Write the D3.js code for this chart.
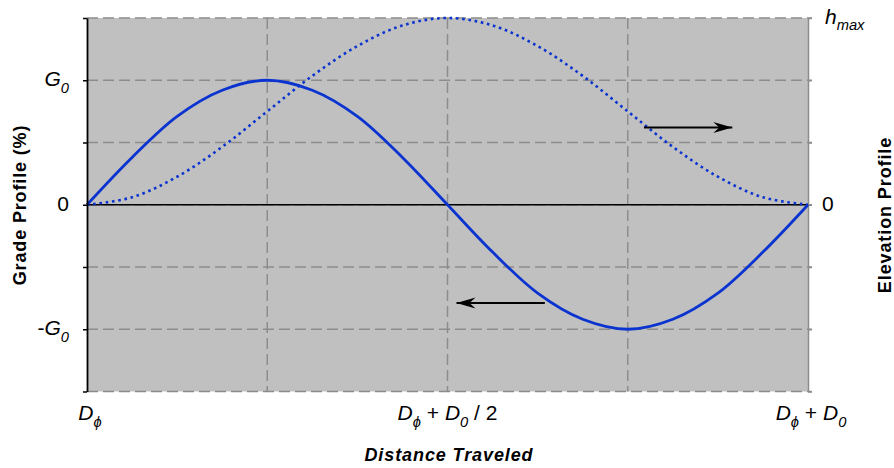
<!DOCTYPE html>
<html><head><meta charset="utf-8">
<script src="https://cdn.jsdelivr.net/npm/d3@7"></script>
<style>
body{margin:0;background:#fff}
text{font-family:"Liberation Sans",Arial,Helvetica,sans-serif;white-space:pre}
</style>
</head><body>
<svg id="c" width="894" height="468"></svg>
<script>
// ---- data (distance in quarter periods, grade in units of G0, elevation in units of h_max)
const distance  = [0,0.25,0.5,0.75,1,1.25,1.5,1.75,2,2.25,2.5,2.75,3,3.25,3.5,3.75,4];
const grade     = [0,0.38,0.71,0.92,1,0.92,0.71,0.38,0,-0.38,-0.71,-0.92,-1,-0.92,-0.71,-0.38,0];
const elevation = [0,0.04,0.15,0.31,0.5,0.69,0.85,0.96,1,0.96,0.85,0.69,0.5,0.31,0.15,0.04,0];
const gridValues = [-1.5,-1,-0.5,0,0.5,1,1.5];
const xGridValues = [1,2,3];
const gradeTickValues = [-1,0,1];
const gradeTickLabels = ["-G_0","0","G_0"];
const elevTickValues = [0,1];
const elevTickLabels = ["0","h_max"];
const xTickValues = [0,2,4];
const xTickLabels = ["D_ϕ","D_ϕ + D_0 / 2","D_ϕ + D_0"];
const arrowFrom = [[3.09,0.62],[2.54,-0.79]];
const arrowTo   = [[3.58,0.62],[2.05,-0.79]];

const svg = d3.select("#c");
const L=87, R=808, T=18, B=391.5;
const x = d3.scaleLinear().domain([0,4]).range([L,R]);
const y = d3.scaleLinear().domain([-1.5,1.5]).range([B,T]);
const yE = d3.scaleLinear().domain([-1,1]).range([B,T]);

const blue="#0a33d0", gridC="#8c8c8c";

function rich(sel, str, fs){
  sel.text(null);
  const segs=[]; let i=0;
  while(i<str.length){
    if(str[i]==='_'){ let j=i+1; while(j<str.length && str[j]!==' ') j++; segs.push({t:str.slice(i+1,j),sub:true}); i=j; }
    else { let j=i; let cur=null; let buf="";
      while(j<str.length && str[j]!=='_'){
        const it=/[A-Za-zϕ]/.test(str[j]);
        if(cur!==null && it!==cur){ segs.push({t:buf,sub:false,it:cur}); buf=""; }
        cur=it; buf+=str[j]; j++;
      }
      if(buf) segs.push({t:buf,sub:false,it:cur});
      i=j; }
  }
  let off=0;
  segs.forEach(s=>{
    const ts=sel.append("tspan").text(s.t);
    if(s.sub){ ts.attr("font-size",fs*0.7).attr("font-style","italic").attr("dy",fs*0.32-off); off=fs*0.32; }
    else { ts.attr("font-size",fs).attr("font-style",s.it?"italic":"normal"); if(off){ts.attr("dy",-off); off=0;} }
  });
}

// background
svg.append("rect").attr("x",L).attr("y",T).attr("width",R-L).attr("height",B-T).attr("fill","#c0c0c0");

// grid
svg.append("g").selectAll("line").data(gridValues).join("line")
  .attr("x1",L).attr("x2",R+4).attr("y1",d=>y(d)).attr("y2",d=>y(d))
  .attr("stroke",gridC).attr("stroke-width",1.5).attr("stroke-dasharray","11,5");
svg.append("g").selectAll("line").data(xGridValues).join("line")
  .attr("x1",d=>x(d)).attr("x2",d=>x(d)).attr("y1",T).attr("y2",B)
  .attr("stroke",gridC).attr("stroke-width",1.5).attr("stroke-dasharray","11,5");

// right axis
const ra = svg.append("g").attr("transform",`translate(${R},0)`)
  .call(d3.axisRight(y).tickValues(gridValues).tickSize(4).tickSizeOuter(0).tickFormat(""));
ra.select(".domain").attr("stroke",gridC).attr("stroke-width",1.5);
ra.selectAll(".tick line").attr("stroke",gridC).attr("stroke-width",1.5);

// zero line
svg.append("line").attr("x1",L).attr("x2",R).attr("y1",y(0)).attr("y2",y(0))
  .attr("stroke","#000").attr("stroke-width",1.5);

// curves
const pts = distance.map((d,i)=>({d, g:grade[i], e:elevation[i]}));
svg.append("path").datum(pts)
  .attr("d",d3.line().x(p=>x(p.d)).y(p=>yE(p.e)).curve(d3.curveCatmullRom))
  .attr("fill","none").attr("stroke",blue).attr("stroke-width",2.6).attr("stroke-dasharray","2.6,3.7");
svg.append("path").datum(pts)
  .attr("d",d3.line().x(p=>x(p.d)).y(p=>y(p.g)).curve(d3.curveCatmullRom))
  .attr("fill","none").attr("stroke",blue).attr("stroke-width",2.8);

// arrows
svg.append("defs").append("marker").attr("id","ah").attr("viewBox","-20 -6 21 12")
  .attr("refX",0).attr("refY",0).attr("markerWidth",21).attr("markerHeight",12)
  .attr("markerUnits","userSpaceOnUse").attr("orient","auto")
  .append("path").attr("d","M0,0 L-19,-5.5 L-13,0 L-19,5.5 Z").attr("fill","#000");
svg.append("g").selectAll("line").data(arrowFrom).join("line")
  .attr("x1",d=>x(d[0])).attr("y1",d=>y(d[1]))
  .attr("x2",(d,i)=>x(arrowTo[i][0])).attr("y2",(d,i)=>y(arrowTo[i][1]))
  .attr("stroke","#000").attr("stroke-width",2).attr("marker-end","url(#ah)");

// left axis
const la = svg.append("g").attr("transform",`translate(${L},0)`)
  .call(d3.axisLeft(y).tickValues(gridValues).tickSize(4).tickSizeOuter(0).tickFormat(""));
la.select(".domain").attr("stroke","#000").attr("stroke-width",1.8);
la.selectAll(".tick line").attr("stroke","#000").attr("stroke-width",1.5);

// tick labels
svg.append("g").selectAll("text").data(gradeTickValues).join("text")
  .attr("x",L-18).attr("y",d=>y(d)).attr("dy","0.36em").attr("text-anchor","end")
  .each(function(d,i){ rich(d3.select(this), gradeTickLabels[i], 21); });
svg.append("g").selectAll("text").data(elevTickValues).join("text")
  .attr("x",(d,i)=>R+(i===0?14:17)).attr("y",d=>yE(d)).attr("dy","0.36em").attr("text-anchor","start")
  .each(function(d,i){ rich(d3.select(this), elevTickLabels[i], 21); });
svg.append("g").selectAll("text").data(xTickValues).join("text")
  .attr("x",(d,i)=>x(d)+(i===0?3:i===2?3:0)).attr("y",420).attr("text-anchor","middle")
  .each(function(d,i){ rich(d3.select(this), xTickLabels[i], 21); });

// axis titles
svg.append("text").attr("transform",`translate(26,205) rotate(-90)`).attr("text-anchor","middle")
  .attr("font-size",18).attr("font-weight","bold").attr("letter-spacing",0.85).text("Grade Profile (%)");
svg.append("text").attr("transform",`translate(891,215) rotate(-90)`).attr("text-anchor","middle")
  .attr("font-size",18).attr("font-weight","bold").attr("letter-spacing",0.9).text("Elevation Profile");
svg.append("text").attr("x",449).attr("y",461).attr("text-anchor","middle")
  .attr("font-size",18).attr("font-weight","bold").attr("font-style","italic").attr("letter-spacing",0.9).text("Distance Traveled");
</script>
</body></html>
